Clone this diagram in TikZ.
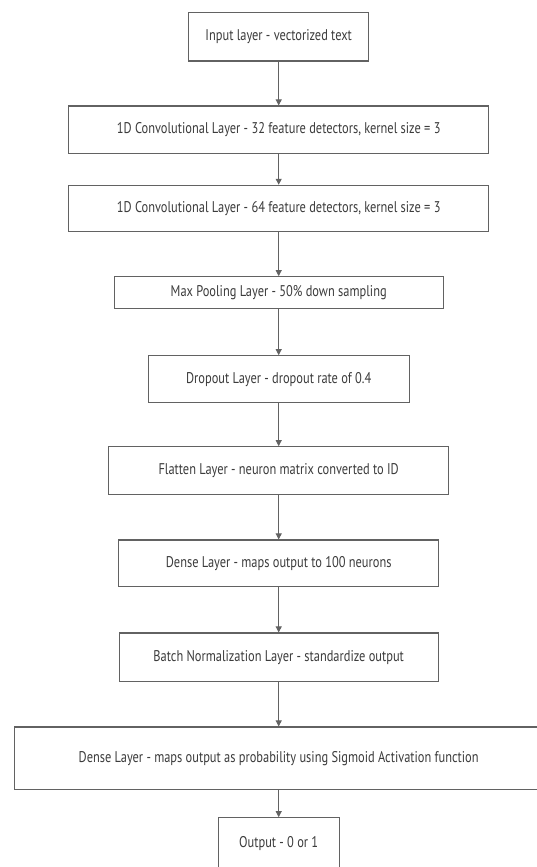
\documentclass[tikz,border=0pt]{standalone}
\usepackage{fontspec}
\setmainfont{PT Sans}[FakeStretch=0.8]
\usetikzlibrary{arrows.meta}
\definecolor{edge}{HTML}{626262}
\definecolor{txt}{HTML}{3C3C3C}
\tikzset{
  layer/.style={draw=edge, line width=1.1pt, fill=white, inner sep=0pt,
    text=txt, font=\fontsize{15.5}{18}\selectfont, anchor=center},
  flow/.style={draw=edge, line width=0.9pt, -{Triangle[width=6pt,length=6pt]}}
}
\begin{document}
\begin{tikzpicture}[x=1pt,y=-1pt]
\useasboundingbox (0,0) rectangle (537,867);
\clip (0,0) rectangle (537,867);
\node[layer, minimum width=179.7pt, minimum height=48.3pt] (n1) at (278.7,36.85) {Input layer - vectorized text};
\node[layer, minimum width=420pt, minimum height=47.7pt] (n2) at (278.7,129.85) {1D Convolutional Layer - 32 feature detectors, kernel size = 3};
\node[layer, minimum width=420pt, minimum height=46pt] (n3) at (278.7,208.3) {1D Convolutional Layer - 64 feature detectors, kernel size = 3};
\node[layer, minimum width=328.7pt, minimum height=31.6pt] (n4) at (278.7,292.5) {Max Pooling Layer - 50\% down sampling};
\node[layer, minimum width=261pt, minimum height=47pt] (n5) at (278.7,379.2) {Dropout Layer - dropout rate of 0.4};
\node[layer, minimum width=340pt, minimum height=47.6pt] (n6) at (278.7,470.5) {Flatten Layer - neuron matrix converted to ID};
\node[layer, minimum width=319.7pt, minimum height=46.3pt] (n7) at (278.7,563.15) {Dense Layer - maps output to 100 neurons};
\node[layer, minimum width=319.3pt, minimum height=48.3pt] (n8) at (278.7,657.15) {Batch Normalization Layer - standardize output};
\node[layer, minimum width=528pt, minimum height=62.3pt] (n9) at (278.7,758.15) {Dense Layer - maps output as probability using Sigmoid Activation function};
\node[layer, minimum width=120.7pt, minimum height=52.4pt] (n10) at (278.7,843.9) {Output - 0 or 1};
\draw[flow] (n1) -- (n2);
\draw[flow] (n2) -- (n3);
\draw[flow] (n3) -- (n4);
\draw[flow] (n4) -- (n5);
\draw[flow] (n5) -- (n6);
\draw[flow] (n6) -- (n7);
\draw[flow] (n7) -- (n8);
\draw[flow] (n8) -- (n9);
\draw[flow] (n9) -- (n10);
\end{tikzpicture}
\end{document}
